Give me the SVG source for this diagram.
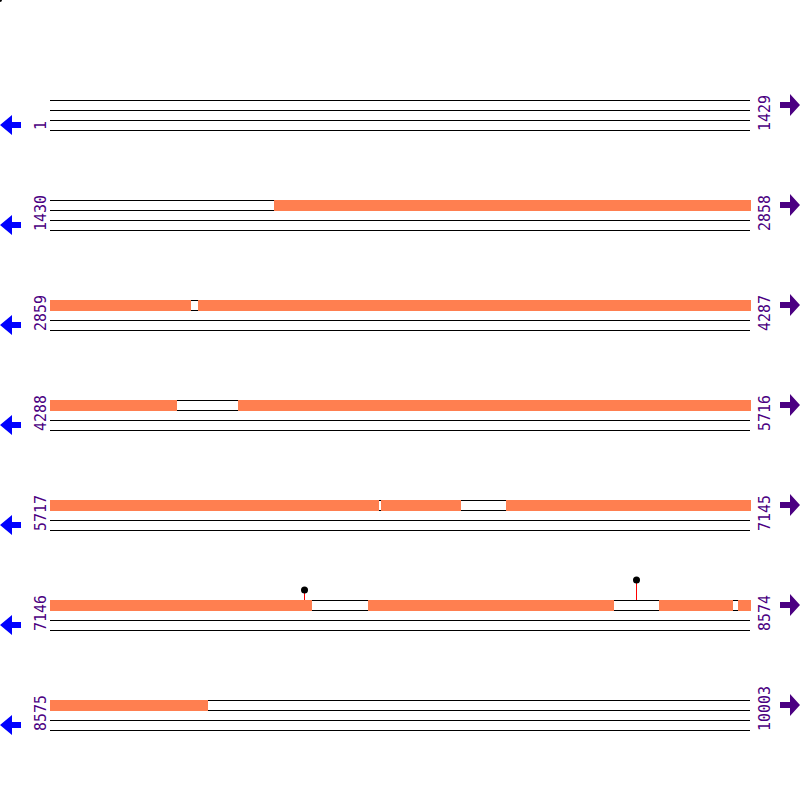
<svg xmlns="http://www.w3.org/2000/svg" width="800" height="800" viewBox="0 0 800 800">
<style>
.ln{stroke:#000;stroke-width:1;fill:none}
.feat{fill:#FF7F50}
.lab{font-family:"DejaVu Sans Mono",monospace;font-size:15px;fill:#4B0082}
.la{fill:#0000FF}
.ra{fill:#4B0082}
.stem{stroke:#FF0000;stroke-width:1}
.head{fill:#000}
</style>
<defs>
<g id="tracks">
<line class="ln" x1="50" y1="100.5" x2="750" y2="100.5"/>
<line class="ln" x1="50" y1="110.5" x2="750" y2="110.5"/>
<line class="ln" x1="50" y1="120.5" x2="750" y2="120.5"/>
<line class="ln" x1="50" y1="130.5" x2="750" y2="130.5"/>
</g>
<polygon id="larrow" points="0,125 12,115 12,122 21,122 21,128 12,128 12,135"/>
<polygon id="rarrow" points="800,105 790,94 790,102 780,102 780,108 790,108 790,116"/>
</defs>
<circle cx="0" cy="0" r="2" fill="#000"/>
<g id="connectors">
<line class="stem" x1="304.5" y1="592" x2="304.5" y2="600"/>
<line class="stem" x1="636.5" y1="582" x2="636.5" y2="600"/>
</g>
<g id="row1">
<use href="#tracks"/>
<use href="#larrow" class="la"/><use href="#rarrow" class="ra"/>
<text class="lab" transform="translate(46,130) rotate(-90)">1</text>
<text class="lab" transform="translate(770,131) rotate(-90)">1429</text>
</g>
<g id="row2" transform="translate(0,100)">
<use href="#tracks"/>
<rect class="feat" x="274" y="100" width="477" height="11"/>
<use href="#larrow" class="la"/><use href="#rarrow" class="ra"/>
<text class="lab" transform="translate(46,131) rotate(-90)">1430</text>
<text class="lab" transform="translate(770,131) rotate(-90)">2858</text>
</g>
<g id="row3" transform="translate(0,200)">
<use href="#tracks"/>
<rect class="feat" x="50" y="100" width="141" height="11"/>
<rect class="feat" x="198" y="100" width="553" height="11"/>
<use href="#larrow" class="la"/><use href="#rarrow" class="ra"/>
<text class="lab" transform="translate(46,131) rotate(-90)">2859</text>
<text class="lab" transform="translate(770,131) rotate(-90)">4287</text>
</g>
<g id="row4" transform="translate(0,300)">
<use href="#tracks"/>
<rect class="feat" x="50" y="100" width="127" height="11"/>
<rect class="feat" x="238" y="100" width="513" height="11"/>
<use href="#larrow" class="la"/><use href="#rarrow" class="ra"/>
<text class="lab" transform="translate(46,131) rotate(-90)">4288</text>
<text class="lab" transform="translate(770,131) rotate(-90)">5716</text>
</g>
<g id="row5" transform="translate(0,400)">
<use href="#tracks"/>
<rect class="feat" x="50" y="100" width="329" height="11"/>
<rect class="feat" x="381" y="100" width="80" height="11"/>
<rect class="feat" x="506" y="100" width="245" height="11"/>
<use href="#larrow" class="la"/><use href="#rarrow" class="ra"/>
<text class="lab" transform="translate(46,131) rotate(-90)">5717</text>
<text class="lab" transform="translate(770,131) rotate(-90)">7145</text>
</g>
<g id="row6" transform="translate(0,500)">
<use href="#tracks"/>
<rect class="feat" x="50" y="100" width="262" height="11"/>
<rect class="feat" x="368" y="100" width="246" height="11"/>
<rect class="feat" x="659" y="100" width="74" height="11"/>
<rect class="feat" x="738" y="100" width="13" height="11"/>
<use href="#larrow" class="la"/><use href="#rarrow" class="ra"/>
<text class="lab" transform="translate(46,131) rotate(-90)">7146</text>
<text class="lab" transform="translate(770,131) rotate(-90)">8574</text>
</g>
<g id="lollipop1"><circle class="head" cx="304.5" cy="590" r="3.5"/></g>
<g id="lollipop2"><circle class="head" cx="636.5" cy="580" r="3.5"/></g>
<g id="row7" transform="translate(0,600)">
<use href="#tracks"/>
<rect class="feat" x="50" y="100" width="158" height="11"/>
<use href="#larrow" class="la"/><use href="#rarrow" class="ra"/>
<text class="lab" transform="translate(46,131) rotate(-90)">8575</text>
<text class="lab" transform="translate(770,131) rotate(-90)">10003</text>
</g>
</svg>
